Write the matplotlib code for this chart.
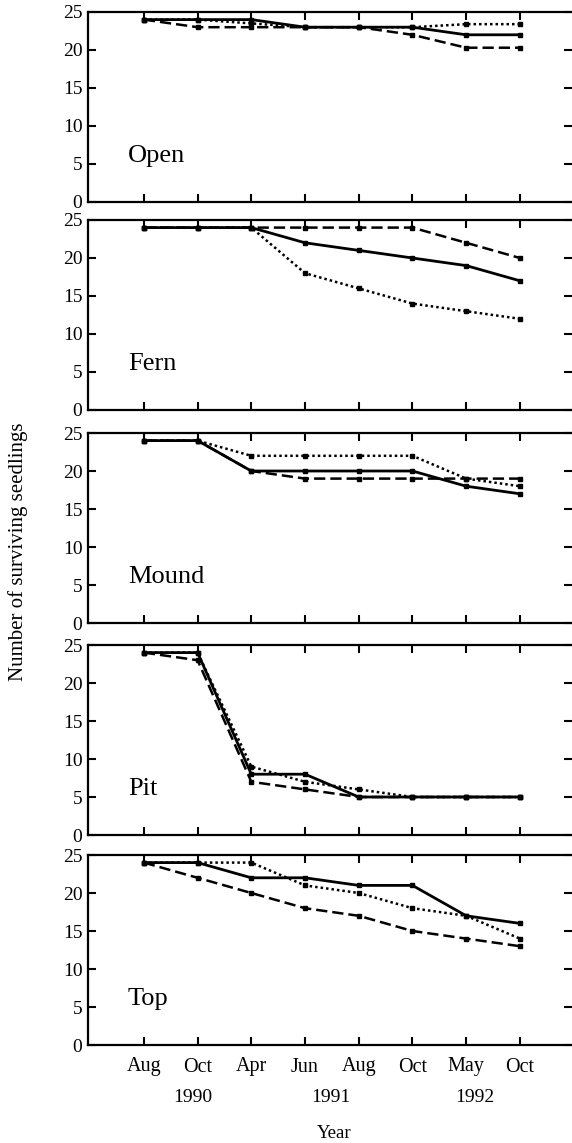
import matplotlib
matplotlib.use("Agg")
import matplotlib.pyplot as plt
import matplotlib.transforms as mtransforms

plt.rcParams['font.family'] = ['Liberation Serif', 'DejaVu Serif']

# data
panels = ["Open", "Fern", "Mound", "Pit", "Top"]
months = ["Aug", "Oct", "Apr", "Jun", "Aug", "Oct", "May", "Oct"]
years = ["1990", "1991", "1992"]
year_pos = [1.91, 4.49, 7.16]

solid = [
    [24, 24, 24, 23, 23, 23, 22, 22],
    [24, 24, 24, 22, 21, 20, 19, 17],
    [24, 24, 20, 20, 20, 20, 18, 17],
    [24, 24, 8, 8, 5, 5, 5, 5],
    [24, 24, 22, 22, 21, 21, 17, 16],
]
dotted = [
    [24, 24, 23.5, 23, 23, 23, 23.4, 23.4],
    [24, 24, 24, 18, 16, 14, 13, 12],
    [24, 24, 22, 22, 22, 22, 19, 18],
    [24, 24, 9, 7, 6, 5, 5, 5],
    [24, 24, 24, 21, 20, 18, 17, 14],
]
dashed = [
    [24, 23, 23, 23, 23, 22, 20.3, 20.3],
    [24, 24, 24, 24, 24, 24, 22, 20],
    [24, 24, 20, 19, 19, 19, 19, 19],
    [24, 23, 7, 6, 5, 5, 5, 5],
    [24, 22, 20, 18, 17, 15, 14, 13],
]

W, H = 572, 1143
fig = plt.figure(figsize=(W / 100, H / 100), dpi=100)

tops = [12, 220, 433, 645, 855]
ph = 190
left = 88
x = list(range(1, 9))

for i, name in enumerate(panels):
    ax = fig.add_axes([left / W, 1 - (tops[i] + ph) / H, (W - left) / W, ph / H])
    ax.plot(x, dotted[i], color='k', lw=1.8, ls=(0, (1, 1.2)), marker='s', ms=2.5)
    ax.plot(x, dashed[i], color='k', lw=1.8, ls=(0, (4.5, 2)), marker='s', ms=2.5)
    ax.plot(x, solid[i], color='k', lw=2.0, marker='s', ms=2.5)

    ax.set_xlim(-0.04, 8.97)
    ax.set_ylim(0, 25)
    ax.set_yticks([0, 5, 10, 15, 20, 25])
    ax.set_xticks(x)
    ax.tick_params(direction='in', top=True, right=True, length=6, width=1.5,
                   labelsize=14, pad=4)
    ax.tick_params(axis='x', pad=9, labelsize=14.5)
    for s in ['left', 'bottom', 'top']:
        ax.spines[s].set_linewidth(1.6)
    ax.spines['right'].set_visible(False)

    if i < len(panels) - 1:
        ax.set_xticklabels([])
    else:
        ax.set_xticklabels(months)
        tr = mtransforms.blended_transform_factory(ax.transData, fig.transFigure)
        for yr, xp in zip(years, year_pos):
            ax.text(xp, 1 - 1098 / H, yr, transform=tr, ha='center', va='center',
                    fontsize=14)
        ax.text(4.54, 1 - 1133 / H, "Year", transform=tr, ha='center', va='center',
                fontsize=13.5)

    ax.text(0.7, 6, name, fontsize=19, va='center', ha='left')

fig.text(18 / W, 1 - 552 / H, "Number of surviving seedlings", rotation=90,
         ha='center', va='center', fontsize=15)

fig.savefig("out.png", dpi=100)
